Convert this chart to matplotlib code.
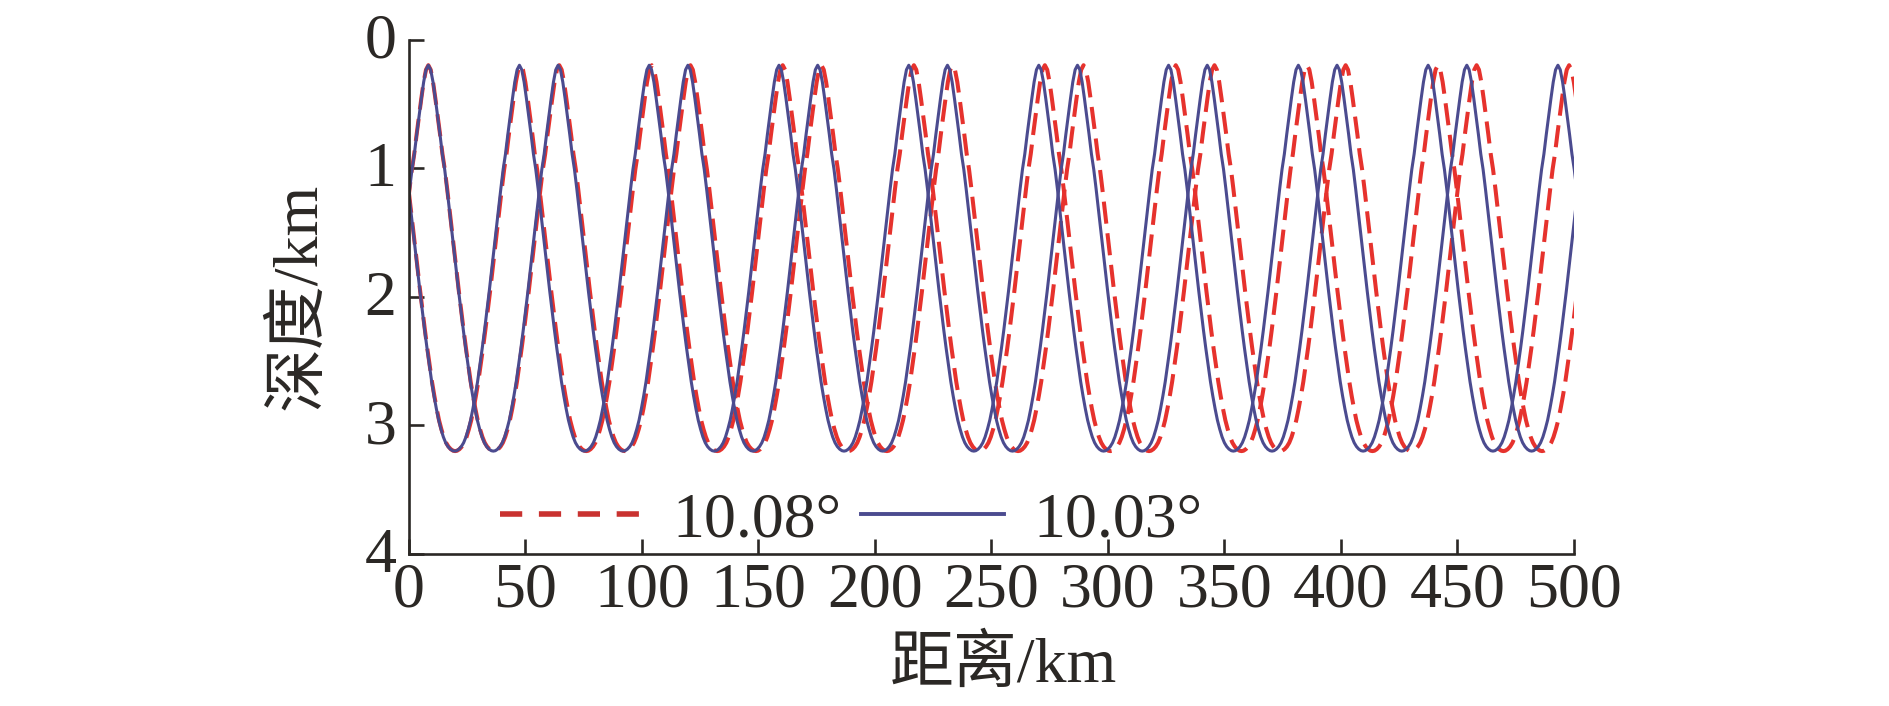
import numpy as np
import matplotlib.pyplot as plt
import matplotlib.transforms as mtransforms
from matplotlib.lines import Line2D

# Datos leidos de la figura
# forma de medio ciclo (cresta -> valle): distancia desde la cresta (km) y profundidad (km)
forma_dist = [0, 1, 2, 3, 4, 5, 6, 7, 8, 9, 10, 11, 12, 13, 14, 15, 16, 17, 18,
              19, 20, 21, 22, 23, 24, 25, 26, 27, 27.85]
forma_prof = [0.2, 0.235, 0.33, 0.46, 0.60, 0.74, 0.89, 1.01, 1.16, 1.32, 1.48,
              1.64, 1.80, 1.96, 2.11, 2.26, 2.40, 2.53, 2.66, 2.77, 2.87, 2.96,
              3.03, 3.09, 3.135, 3.165, 3.185, 3.197, 3.2]

# puntos de giro (km), alternando valle/cresta
azul_sube = [-19.6, 8.3, 36.2, 64.0, 91.9, 119.7, 147.6, 175.4, 203.3, 231.1, 259.0,
             286.9, 314.7, 342.6, 370.4, 398.3, 426.1, 454.0, 481.8, 509.7]   # empieza en valle
azul_baja = [-8.3, 19.6, 47.4, 75.3, 103.1, 131.0, 158.8, 186.7, 214.5, 242.4, 270.3,
             298.1, 326.0, 353.8, 381.7, 409.5, 437.4, 465.2, 493.1, 521.0]   # empieza en cresta
rojo_sube = [-19.8, 8.3, 36.4, 64.5, 92.7, 120.8, 148.9, 177.0, 205.1, 233.3, 261.4,
             289.5, 317.6, 345.7, 373.9, 402.0, 430.1, 458.2, 486.3, 514.5]
rojo_baja = [-8.3, 19.8, 47.9, 76.1, 104.2, 132.3, 160.4, 188.5, 216.7, 244.8, 272.9,
             301.0, 329.1, 357.3, 385.4, 413.5, 441.6, 469.7, 497.9, 526.0]

etiquetas = ["10.08°", "10.03°"]
x_ticks = [0, 50, 100, 150, 200, 250, 300, 350, 400, 450, 500]
y_ticks = [0, 1, 2, 3, 4]

ROJO = "#e6322d"
AZUL = "#4b4b8f"
NEGRO = "#2b2825"
fuente = ["Liberation Serif", "Noto Sans CJK SC"]


def trayectoria(giros, cresta):
    f = np.array(forma_dist) / forma_dist[-1]
    prof = np.array(forma_prof)
    xs, zs = [], []
    for i in range(len(giros) - 1):
        x0, x1 = giros[i], giros[i + 1]
        if cresta:
            xs.append(x0 + f * (x1 - x0))
            zs.append(prof)
        else:
            xs.append((x1 - f * (x1 - x0))[::-1])
            zs.append(prof[::-1])
        cresta = not cresta
    return np.concatenate(xs), np.concatenate(zs)


fig = plt.figure(figsize=(18.9, 7.06), dpi=100)
ax = fig.add_axes([409 / 1890, 1 - 554 / 706, (1574 - 409) / 1890, (554 - 39.5) / 706])

for giros, cresta in [(rojo_sube, False), (rojo_baja, True)]:
    x, z = trayectoria(giros, cresta)
    ax.plot(x, z, color=ROJO, lw=2.9, dashes=(5.5, 2.4), solid_capstyle="butt")
for giros, cresta in [(azul_sube, False), (azul_baja, True)]:
    x, z = trayectoria(giros, cresta)
    ax.plot(x, z, color=AZUL, lw=2.2)

ax.set_xlim(0, 500)
ax.set_ylim(4, 0)
ax.set_xticks(x_ticks)
ax.set_yticks(y_ticks)
ax.spines["top"].set_visible(False)
ax.spines["right"].set_visible(False)
for s in ["left", "bottom"]:
    ax.spines[s].set_color(NEGRO)
    ax.spines[s].set_linewidth(1.9)
ax.tick_params(direction="in", length=11, width=1.9, color=NEGRO, labelcolor=NEGRO)
ax.tick_params(axis="x", pad=6)
ax.tick_params(axis="y", pad=9)
for lab in ax.get_xticklabels() + ax.get_yticklabels():
    lab.set_family(fuente)
    lab.set_fontsize(46)
# subir un poco las etiquetas del eje y
subir = mtransforms.ScaledTranslation(0, 4 / 100, fig.dpi_scale_trans)
for lab in ax.get_yticklabels():
    lab.set_transform(lab.get_transform() + subir)

ax.set_xlabel("距离/km", family=fuente, fontsize=46, color=NEGRO, labelpad=2)
ax.xaxis.set_label_coords(0.51, -0.16)
ax.set_ylabel("深度/km", family=fuente, fontsize=46, color=NEGRO, labelpad=25)

# Leyenda
h_rojo = Line2D([], [], color="#c93230", lw=4.0, dashes=(4.0, 3.0))
h_azul = Line2D([], [], color=AZUL, lw=2.8)
leg = ax.legend([h_rojo, h_azul], etiquetas, ncol=2, frameon=False,
                loc="center left", bbox_to_anchor=(0.078, 0.064),
                prop={"family": fuente, "size": 46}, handlelength=2.25,
                handletextpad=0.45, columnspacing=0.3, borderpad=0, borderaxespad=0)
for t in leg.get_texts():
    t.set_color(NEGRO)

fig.savefig("out.png", dpi=100)
